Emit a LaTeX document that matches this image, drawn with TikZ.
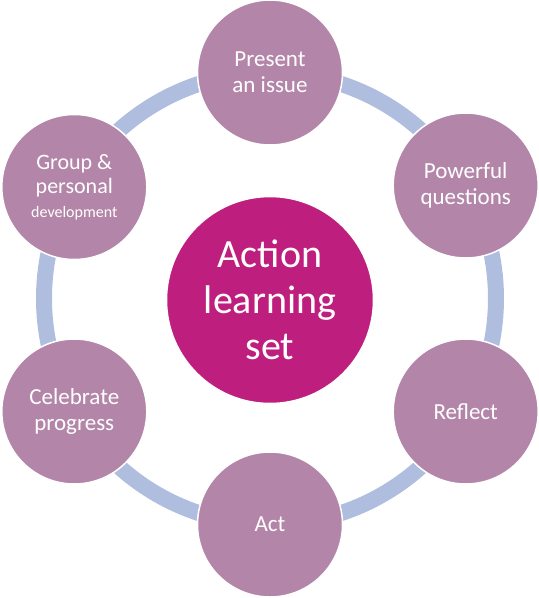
\documentclass[tikz,border=0pt]{standalone}
\usepackage{fontspec}
\setmainfont{Carlito}
\definecolor{ringc}{HTML}{AFBEDF}
\definecolor{outerc}{HTML}{B386A9}
\definecolor{centerc}{HTML}{BE1E7D}
\begin{document}
\begin{tikzpicture}[x=1pt,y=-1pt,
  outer/.style={circle,fill=outerc,draw=white,line width=1.5pt,minimum size=145pt,inner sep=0pt,text=white,align=center,font=\fontsize{23}{26}\selectfont},
  centre/.style={circle,fill=centerc,draw=white,line width=1.5pt,minimum size=207pt,inner sep=0pt,text=white,align=center,font=\fontsize{40}{46}\selectfont}]
\useasboundingbox (0,0) rectangle (539,598);
\coordinate (o) at (270,298.5);
\draw[ringc,line width=16pt] (o) circle (226);
\node[outer] (p) at (270,72.5) {Present\\an issue};
\node[outer] (q) at (465.7,185.5) {Powerful\\questions};
\node[outer] (r) at (465.7,411.5) {Reflect};
\node[outer] (a) at (270,524.5) {Act};
\node[outer] (c) at (74.3,411.5) {Celebrate\\progress};
\node[outer,font=\fontsize{22}{24}\selectfont] (g) at (74.3,187) {Group \&\\personal\\{\fontsize{16}{22}\selectfont development}};
\node[centre] (m) at (270,300) {Action\\learning\\set};
\end{tikzpicture}
\end{document}
